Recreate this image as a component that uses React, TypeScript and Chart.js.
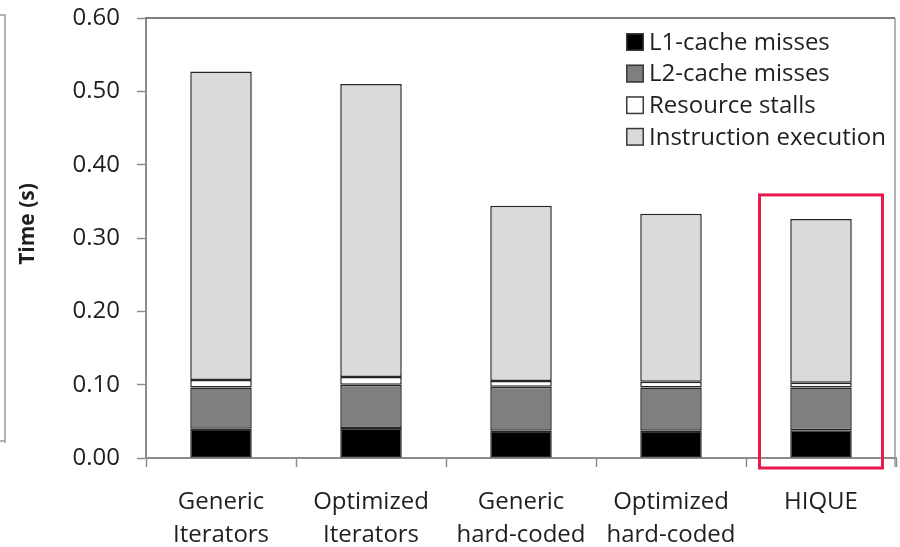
import React, { useEffect, useRef } from "react";
import { Chart, registerables } from "chart.js";

Chart.register(...registerables);

const categories: (string | string[])[] = [
  ["Generic", "Iterators"],
  ["Optimized", "Iterators"],
  ["Generic", "hard-coded"],
  ["Optimized", "hard-coded"],
  "HIQUE",
];
const seriesNames = ["L1-cache misses", "L2-cache misses", "Resource stalls", "Instruction execution"];
const l1Misses = [0.04, 0.041, 0.037, 0.037, 0.038];
const l2Misses = [0.056, 0.059, 0.06, 0.059, 0.058];
const resourceStalls = [0.0105, 0.0105, 0.008, 0.008, 0.0065];
const instructionExec = [0.4205, 0.3995, 0.239, 0.229, 0.2235];
const yTicks = [0, 0.1, 0.2, 0.3, 0.4, 0.5, 0.6];
const highlightIndex = 4;
const yTitle = "Time (s)";

const FONT = '"Open Sans", "Noto Sans", sans-serif';
const AXIS_GRAY = "#8c8c8c";
const TEXT = "#1f1f1f";

const insideLegend = {
  id: "insideLegend",
  afterDraw(chart: any) {
    const { ctx, chartArea } = chart;
    ctx.save();
    ctx.font = `24px ${FONT}`;
    ctx.textBaseline = "middle";
    ctx.textAlign = "left";
    chart.data.datasets.forEach((ds: any, i: number) => {
      const y = chartArea.top + 24 + i * 31.6;
      const x = chartArea.right - 270;
      ctx.fillStyle = ds.backgroundColor;
      ctx.fillRect(x, y - 9, 18, 18);
      ctx.strokeStyle = "#3a3a3a";
      ctx.lineWidth = 1.5;
      ctx.strokeRect(x + 0.75, y - 8.25, 16.5, 16.5);
      ctx.fillStyle = TEXT;
      ctx.fillText(ds.label, x + 23, y + 1);
    });
    ctx.restore();
  },
};

const decorations = {
  id: "decorations",
  afterDraw(chart: any) {
    const { ctx, chartArea, scales } = chart;
    ctx.save();
    // plot frame (top and right)
    ctx.lineWidth = 1.5;
    ctx.strokeStyle = "#555";
    ctx.beginPath();
    ctx.moveTo(chartArea.left, chartArea.top);
    ctx.lineTo(chartArea.right - 1, chartArea.top);
    ctx.stroke();
    ctx.strokeStyle = "#9a9a9a";
    ctx.beginPath();
    ctx.moveTo(chartArea.right - 1, chartArea.top);
    ctx.lineTo(chartArea.right - 1, chartArea.bottom + 9);
    ctx.stroke();

    // edge of neighbouring figure at the far left
    ctx.strokeStyle = "#9a9a9a";
    ctx.lineWidth = 1.5;
    ctx.beginPath();
    ctx.moveTo(0, chartArea.top - 3);
    ctx.lineTo(5, chartArea.top - 3);
    ctx.lineTo(5, chartArea.bottom - 15);
    ctx.moveTo(0, chartArea.bottom - 17);
    ctx.lineTo(5, chartArea.bottom - 17);
    ctx.stroke();

    // y axis title
    ctx.save();
    ctx.translate(28, (chartArea.top + chartArea.bottom) / 2 - 14);
    ctx.rotate(-Math.PI / 2);
    ctx.font = `bold 21px ${FONT}`;
    ctx.fillStyle = TEXT;
    ctx.textAlign = "center";
    ctx.textBaseline = "middle";
    ctx.fillText(yTitle, 0, 0);
    ctx.restore();

    // highlight box around HIQUE
    const xs = scales.x;
    const ys = scales.y;
    const cx = xs.getPixelForValue(highlightIndex);
    const total =
      l1Misses[highlightIndex] + l2Misses[highlightIndex] + resourceStalls[highlightIndex] + instructionExec[highlightIndex];
    const top = ys.getPixelForValue(total) - 24;
    const bottom = ys.getPixelForValue(0) + 10;
    const half = (xs.width / categories.length) * 0.41;
    ctx.strokeStyle = "#e8194c";
    ctx.lineWidth = 3;
    ctx.strokeRect(cx - half, top, half * 2, bottom - top);
    ctx.restore();
  },
};

export default function App() {
  const ref = useRef<HTMLCanvasElement>(null);
  useEffect(() => {
    document.body.style.margin = "0";
    const mk = (label: string, data: number[], color: string) => ({
      label,
      data,
      backgroundColor: color,
      borderColor: "#262626",
      borderWidth: 1.5,
      borderSkipped: false,
      barPercentage: 0.41,
      categoryPercentage: 1,
    });
    const chart = new Chart(ref.current!, {
      type: "bar",
      data: {
        labels: categories,
        datasets: [
          mk(seriesNames[0], l1Misses, "#000000"),
          mk(seriesNames[1], l2Misses, "#7f7f7f"),
          mk(seriesNames[2], resourceStalls, "#ffffff"),
          mk(seriesNames[3], instructionExec, "#d9d9d9"),
        ],
      },
      options: {
        animation: false,
        responsive: false,
        devicePixelRatio: 1,
        layout: { padding: { top: 18, right: 4, left: 0, bottom: 0 } },
        plugins: { legend: { display: false }, tooltip: { enabled: false } },
        scales: {
          x: {
            stacked: true,
            afterFit: (s: any) => {
              s.height = 89;
              s.paddingLeft = 0;
              s.paddingRight = 0;
            },
            grid: {
              display: true,
              drawOnChartArea: false,
              offset: true,
              tickLength: 9,
              tickColor: AXIS_GRAY,
              tickWidth: 1.5,
              color: AXIS_GRAY,
            },
            border: { color: AXIS_GRAY, width: 2 },
            ticks: {
              color: TEXT,
              font: { family: FONT, size: 24, lineHeight: 1.375 },
              padding: 19,
              maxRotation: 0,
              autoSkip: false,
            },
          },
          y: {
            stacked: true,
            min: yTicks[0],
            max: yTicks[yTicks.length - 1],
            afterFit: (s: any) => {
              s.width = 146;
              s.paddingTop = 0;
              s.paddingBottom = 0;
            },
            afterBuildTicks: (s: any) => {
              s.ticks = yTicks.map((v) => ({ value: v }));
            },
            grid: {
              display: true,
              drawOnChartArea: false,
              tickLength: 9,
              tickColor: AXIS_GRAY,
              tickWidth: 1.5,
              color: AXIS_GRAY,
            },
            border: { color: AXIS_GRAY, width: 2 },
            ticks: {
              color: TEXT,
              font: { family: FONT, size: 24 },
              padding: 17,
              callback: (v: any) => Number(v).toFixed(2),
            },
          },
        },
      },
      plugins: [decorations, insideLegend],
    });
    return () => chart.destroy();
  }, []);
  return (
    <div style={{ width: 900, height: 547 }}>
      <canvas ref={ref} width={900} height={547} style={{ display: "block" }} />
    </div>
  );
}
